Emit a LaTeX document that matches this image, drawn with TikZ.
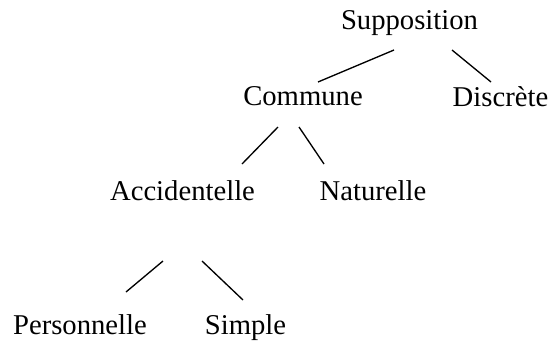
\documentclass[tikz,border=0pt]{standalone}
\usepackage{fontspec}
\setmainfont{Liberation Serif}
\usepackage{tikz}

\begin{document}
\begin{tikzpicture}[x=0.75pt,y=0.75pt,yscale=-1,xscale=1,
  label/.style={anchor=base,inner sep=0pt,font=\fontsize{21.5}{26}\selectfont},
  branch/.style={line width=1pt}]
%set diagram size 551 x 343
\useasboundingbox (0,0) rectangle (551,343);

% Text Node
\node (sup) at (409.5,29) [label] {Supposition};
% Text Node
\node (com) at (303,105) [label] {Commune};
% Text Node
\node (dis) at (500.5,106) [label] {Discrète};
% Text Node
\node (acc) at (182.5,200) [label] {Accidentelle};
% Text Node
\node (nat) at (373,200) [label] {Naturelle};
% Text Node
\node (per) at (80,334) [label] {Personnelle};
% Text Node
\node (sim) at (245.5,334) [label] {Simple};

%Ends of the branches
\coordinate (supL) at (394,50);
\coordinate (supR) at (452,50);
\coordinate (comU) at (318,82);
\coordinate (disU) at (491,82);
\coordinate (comL) at (278,127);
\coordinate (comR) at (299,127);
\coordinate (accU) at (242,164);
\coordinate (natU) at (324,164);
\coordinate (accL) at (163,261);
\coordinate (accR) at (202,261);
\coordinate (perU) at (126,292);
\coordinate (simU) at (243,300);

%Shape: Branches
\draw [branch] (supL) -- (comU);
\draw [branch] (supR) -- (disU);
\draw [branch] (comL) -- (accU);
\draw [branch] (comR) -- (natU);
\draw [branch] (accL) -- (perU);
\draw [branch] (accR) -- (simU);

\end{tikzpicture}
\end{document}
